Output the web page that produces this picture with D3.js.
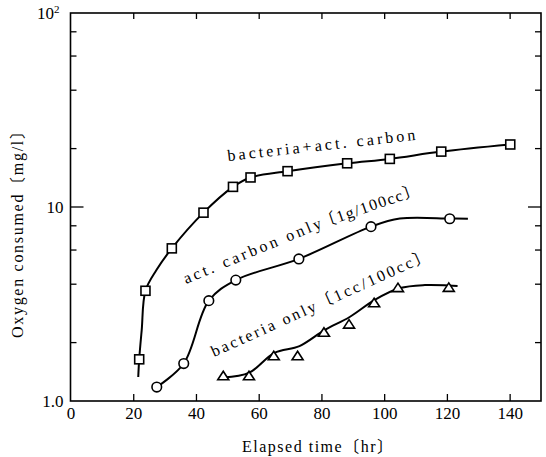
<!DOCTYPE html>
<html>
<head>
<meta charset="utf-8">
<script src="https://cdn.jsdelivr.net/npm/d3@7"></script>
<style>
  body { margin: 0; background: #fff; }
  text { font-family: "Liberation Serif", "Noto Sans CJK JP", serif; fill: #000; }
</style>
</head>
<body>
<div id="chart"></div>
<script>
// data (time in hr, oxygen in mg/l)
const sqTime = [21.9, 23.9, 32.3, 42.4, 51.8, 57.4, 69.2, 88.2, 101.8, 118.2, 140.2];
const sqVal = [1.64, 3.7, 6.12, 9.35, 12.7, 14.2, 15.3, 16.8, 17.7, 19.3, 21.0];
const ciTime = [27.5, 36.1, 44.1, 52.7, 72.8, 95.8, 120.9];
const ciVal = [1.18, 1.56, 3.29, 4.2, 5.4, 7.92, 8.7];
const trTime = [48.7, 56.9, 64.8, 72.4, 80.8, 88.8, 96.8, 104.4, 120.6];
const trVal = [1.35, 1.35, 1.71, 1.71, 2.26, 2.49, 3.21, 3.84, 3.85];

// hand drawn fitted curves
const sqFitTime = [21.6, 21.9, 22.7, 23.9, 27.4, 32.3, 42.4, 51.8, 57.4, 69.2, 88.2, 101.8, 118.2, 140.2];
const sqFitVal = [1.33, 1.64, 2.32, 3.7, 4.73, 6.12, 9.35, 12.7, 14.2, 15.3, 16.8, 17.7, 19.3, 21.0];
const ciFitTime = [27.5, 36.1, 44.1, 52.7, 72.8, 95.8, 105, 120.9, 126.7];
const ciFitVal = [1.18, 1.56, 3.29, 4.2, 5.4, 7.92, 8.72, 8.72, 8.7];
const trFitTime = [48.7, 57, 65, 73, 81, 89, 97, 105, 113, 120.6, 123.4];
const trFitVal = [1.32, 1.4, 1.77, 1.92, 2.32, 2.71, 3.32, 3.82, 3.96, 3.94, 3.92];

// axis ticks
const xTicks = [0, 20, 40, 60, 80, 100, 120, 140];
const yTicks = [1, 10, 100];
const yMinor = [2, 4, 6, 8, 20, 40, 60, 80];

var w = 546;
var h = 457;
var pLeft = 70.5, pRight = 541, pTop = 13, pBottom = 401;

const x = d3.scaleLinear().domain([0, 150]).range([pLeft, pRight]);
const y = d3.scaleLog().domain([1, 100]).range([pBottom, pTop]);

const svg = d3
  .select("#chart")
  .append("svg")
  .attr("width", w)
  .attr("height", h);

// bottom axis, ticks pointing in
const xAxis = svg
  .append("g")
  .attr("transform", `translate(0,${pBottom})`)
  .call(d3.axisBottom(x).tickValues(xTicks).tickSize(-7).tickPadding(6));
xAxis.select(".domain").remove();
xAxis.selectAll("text").style("font-size", "17px");
xAxis.selectAll(".tick").filter((d) => d === 0).select("line").remove();
xAxis.attr("font-family", null);

// top axis ticks
const xTop = svg
  .append("g")
  .attr("transform", `translate(0,${pTop})`)
  .call(d3.axisTop(x).tickValues(xTicks.slice(1)).tickSize(-6).tickFormat(""));
xTop.select(".domain").remove();

// left axis labels
const yAxis = svg
  .append("g")
  .attr("transform", `translate(${pLeft},0)`)
  .call(
    d3.axisLeft(y)
      .tickValues(yTicks)
      .tickSize(0)
      .tickPadding(7)
      .tickFormat((d) => (d === 1 ? "1.0" : "10"))
  );
yAxis.select(".domain").remove();
yAxis.attr("font-family", null);
yAxis.selectAll("text").style("font-size", "17px");
yAxis
  .selectAll(".tick")
  .filter((d) => d === 100)
  .select("text")
  .attr("dx", "-4")
  .append("tspan")
  .attr("dy", "-6")
  .style("font-size", "11px")
  .text("2");

// minor + major ticks on both sides
[pLeft, pRight].forEach(function (px) {
  var dir = px === pLeft ? 1 : -1;
  svg
    .append("g")
    .selectAll("line")
    .data(yMinor.concat([10]))
    .enter()
    .append("line")
    .attr("x1", px)
    .attr("x2", (d) => px + dir * (d === 10 ? 13 : 6))
    .attr("y1", (d) => y(d))
    .attr("y2", (d) => y(d))
    .attr("stroke", "#000")
    .attr("stroke-width", 1.3);
});
svg.selectAll(".tick line").attr("stroke-width", 1.3);

// frame
svg
  .append("rect")
  .attr("x", pLeft)
  .attr("y", pTop)
  .attr("width", pRight - pLeft)
  .attr("height", pBottom - pTop)
  .attr("fill", "none")
  .attr("stroke", "#000")
  .attr("stroke-width", 1.6);

// axis titles
svg
  .append("text")
  .attr("x", 242)
  .attr("y", 452)
  .attr("textLength", 151)
  .attr("lengthAdjust", "spacing")
  .style("font-size", "16px")
  .text("Elapsed time〔hr〕");

svg
  .append("text")
  .attr("transform", "translate(23,338) rotate(-90)")
  .attr("textLength", 215)
  .attr("lengthAdjust", "spacing")
  .style("font-size", "16px")
  .text("Oxygen consumed〔mg/l〕");

// curves
const line = d3
  .line()
  .x((d) => x(d[0]))
  .y((d) => y(d[1]))
  .curve(d3.curveCatmullRom.alpha(0.5));

[
  [sqFitTime, sqFitVal],
  [ciFitTime, ciFitVal],
  [trFitTime, trFitVal],
].forEach(function (s) {
  svg
    .append("path")
    .datum(d3.zip(s[0], s[1]))
    .attr("d", line)
    .attr("fill", "none")
    .attr("stroke", "#000")
    .attr("stroke-width", 2);
});

// markers
svg
  .append("g")
  .selectAll("rect")
  .data(d3.zip(sqTime, sqVal))
  .enter()
  .append("rect")
  .attr("x", (d) => x(d[0]) - 4.5)
  .attr("y", (d) => y(d[1]) - 4.5)
  .attr("width", 9)
  .attr("height", 9)
  .attr("fill", "#fff")
  .attr("stroke", "#000")
  .attr("stroke-width", 1.6);

svg
  .append("g")
  .selectAll("circle")
  .data(d3.zip(ciTime, ciVal))
  .enter()
  .append("circle")
  .attr("cx", (d) => x(d[0]))
  .attr("cy", (d) => y(d[1]))
  .attr("r", 4.8)
  .attr("fill", "#fff")
  .attr("stroke", "#000")
  .attr("stroke-width", 1.6);

svg
  .append("g")
  .selectAll("path")
  .data(d3.zip(trTime, trVal))
  .enter()
  .append("path")
  .attr("d", "M0,-4.5L5.5,4L-5.5,4Z")
  .attr("transform", (d) => `translate(${x(d[0])},${y(d[1])})`)
  .attr("fill", "#fff")
  .attr("stroke", "#000")
  .attr("stroke-width", 1.6);

// series labels (rotated along the curves)
const labels = [
  { text: "bacteria+act. carbon", x: 228, y: 161, a: -6.4, len: 189 },
  { text: "act. carbon only", x: 186, y: 284, a: -22.5, len: 148 },
  { text: "〔1g/100cc〕", x: 322, y: 228, a: -19, len: 104 },
  { text: "bacteria only〔1cc/100cc〕", x: 214, y: 357, a: -24.3, len: 238 },
];
svg
  .append("g")
  .selectAll("text")
  .data(labels)
  .enter()
  .append("text")
  .attr("transform", (d) => `translate(${d.x},${d.y}) rotate(${d.a})`)
  .attr("textLength", (d) => d.len)
  .attr("lengthAdjust", "spacing")
  .style("font-size", "16px")
  .text((d) => d.text);
</script>
</body>
</html>
